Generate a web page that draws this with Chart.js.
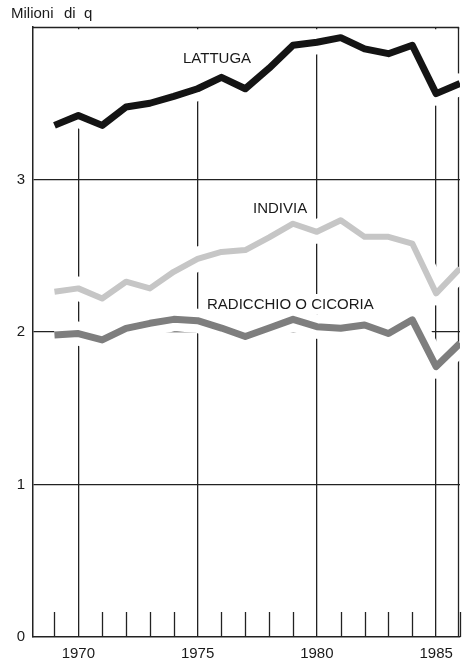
<!DOCTYPE html>
<html>
<head>
<meta charset="utf-8">
<script src="https://cdn.jsdelivr.net/npm/chart.js@4/dist/chart.umd.min.js"></script>
<style>
html,body{margin:0;padding:0;background:#fff;}
canvas{display:block;}
</style>
</head>
<body>
<canvas id="c" width="468" height="664"></canvas>
<script>
const years = [1969,1970,1971,1972,1973,1974,1975,1976,1977,1978,1979,1980,1981,1982,1983,1984,1985,1986];
const lattuga = [3.355,3.42,3.355,3.475,3.50,3.545,3.595,3.67,3.595,3.73,3.88,3.90,3.93,3.857,3.825,3.88,3.563,3.63];
const indivia = [2.264,2.286,2.22,2.33,2.286,2.395,2.48,2.525,2.537,2.62,2.71,2.657,2.733,2.624,2.624,2.58,2.253,2.417];
const radicchio = [1.98,1.99,1.948,2.024,2.057,2.083,2.074,2.026,1.97,2.026,2.083,2.035,2.024,2.046,1.99,2.08,1.773,1.926];
const xLabels = [1970,1975,1980,1985];
const yLabels = [0,1,2,3];
const seriesNames = ['LATTUGA','INDIVIA','RADICCHIO O CICORIA'];
const unitTitle = ['Milioni','di','q'];

const FONT = "'Liberation Sans', Arial, sans-serif";
const pts = arr => arr.map((v,i)=>({x:years[i], y:v}));

function halo(arr, extra){
  return Object.assign({data:pts(arr), borderColor:'#ffffff', borderWidth:24, pointRadius:0,
    tension:0, borderJoinStyle:'round', borderCapStyle:'butt', fill:false, order:5}, extra||{});
}
function main(arr, color, w){
  return {data:pts(arr), borderColor:color, borderWidth:w, pointRadius:0, tension:0,
    borderJoinStyle:'round', borderCapStyle:'butt', fill:false, order:1};
}

function seg(ctx,x1,y1,x2,y2){ctx.beginPath();ctx.moveTo(x1,y1);ctx.lineTo(x2,y2);ctx.stroke();}

const deco = {
  id:'deco',
  beforeDatasetsDraw(chart){
    const {ctx, chartArea:a, scales:{x}} = chart;
    ctx.save();
    ctx.strokeStyle = '#222'; ctx.lineWidth = 1.3;
    seg(ctx, a.right-1.5, a.top, a.right-1.5, a.bottom);
    years.forEach(v=>{
      if (v % 5 !== 0) {
        const px = Math.round(x.getPixelForValue(v)) + 0.5;
        seg(ctx, px, a.bottom, px, a.bottom-25);
      }
    });
    ctx.restore();
  },
  afterDatasetsDraw(chart){
    const {ctx, chartArea:a, scales:{x,y}} = chart;
    ctx.save();
    ctx.strokeStyle = '#222'; ctx.lineWidth = 1.3;
    seg(ctx, a.left, a.top+0.5, a.right-1, a.top+0.5);
    seg(ctx, a.right-1.5, a.top, a.right-1.5, y.getPixelForValue(lattuga[lattuga.length-1]) - 10);
    ctx.font = '15px ' + FONT;
    ctx.textBaseline = 'alphabetic';
    const labs = [[seriesNames[0],183,63],[seriesNames[1],253,213],[seriesNames[2],207,309]];
    labs.forEach(([t,lx,ly])=>{
      const w = ctx.measureText(t).width;
      ctx.fillStyle = '#fff';
      ctx.fillRect(lx-4, ly-15, w+8, 20);
      ctx.fillStyle = '#1a1a1a';
      ctx.fillText(t, lx, ly);
    });
    ctx.fillStyle = '#1a1a1a';
    ctx.fillText(unitTitle[0], 11, 18);
    ctx.fillText(unitTitle[1], 64, 18);
    ctx.fillText(unitTitle[2], 84, 18);
    ctx.restore();
  }
};

new Chart(document.getElementById('c'), {
  type:'line',
  data:{
    datasets:[
      halo(lattuga, {fill:{value:3.985}, backgroundColor:'#ffffff'}),
      halo(indivia),
      halo(radicchio),
      main(lattuga, '#141414', 7),
      main(indivia, '#c6c6c6', 6),
      main(radicchio, '#7e7e7e', 7)
    ]
  },
  options:{
    responsive:false,
    animation:false,
    devicePixelRatio:1,
    layout:{padding:{top:27, right:1, left:0, bottom:0}},
    plugins:{legend:{display:false}, tooltip:{enabled:false}, title:{display:false}},
    scales:{
      x:{
        type:'linear', min:1968.1, max:1986,
        afterBuildTicks(s){ s.ticks = years.map(v=>({value:v})); },
        afterFit(s){ s.height = 27; },
        ticks:{
          autoSkip:false, maxRotation:0, padding:8, color:'#1a1a1a',
          font:{family:FONT, size:15},
          callback(v){ return xLabels.includes(v) ? String(v) : ''; }
        },
        grid:{
          drawTicks:false,
          color(c){ return (c.tick && c.tick.value % 5 === 0) ? '#222' : 'rgba(0,0,0,0)'; },
          lineWidth:1.3
        },
        border:{display:true, color:'#222', width:1.5}
      },
      y:{
        type:'linear', min:0, max:4,
        afterBuildTicks(s){ s.ticks = [0,1,2,3,4].map(v=>({value:v})); },
        afterFit(s){ s.width = 33; },
        ticks:{
          padding:8, color:'#1a1a1a', font:{family:FONT, size:15},
          callback(v){ return yLabels.includes(v) ? String(v) : ''; }
        },
        grid:{
          drawTicks:false,
          color(c){ const v = c.tick && c.tick.value; return (v>0 && v<4) ? '#222' : 'rgba(0,0,0,0)'; },
          lineWidth:1.3
        },
        border:{display:true, color:'#222', width:1.5}
      }
    }
  },
  plugins:[deco]
});
</script>
</body>
</html>
